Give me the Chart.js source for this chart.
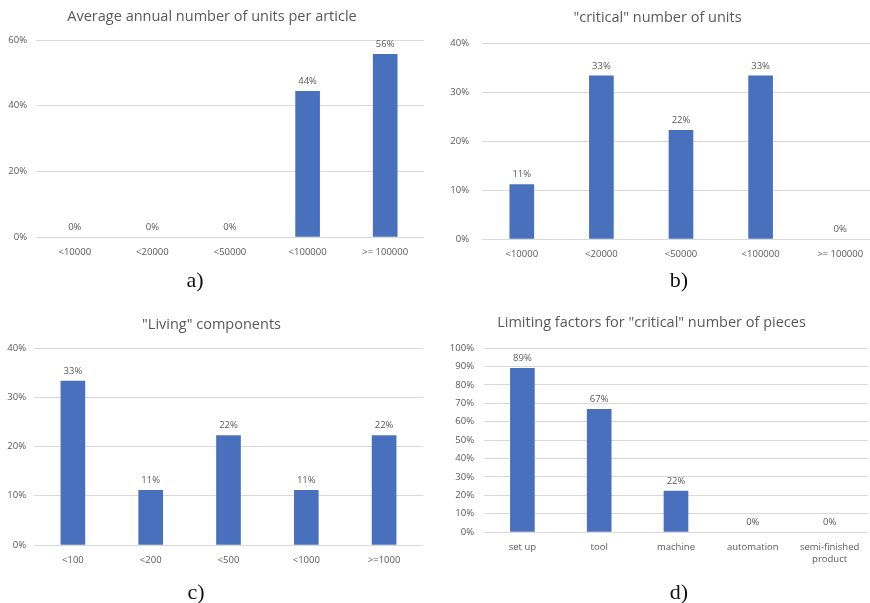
<!DOCTYPE html>
<html>
<head>
<meta charset="utf-8">
<script src="https://cdn.jsdelivr.net/npm/chart.js@4/dist/chart.umd.min.js"></script>
<style>
  html, body { margin: 0; padding: 0; background: #ffffff; width: 870px; height: 603px; overflow: hidden; position: relative; }
  canvas { position: absolute; }
  .tag { position: absolute; font-family: "Liberation Serif", "DejaVu Serif", serif; font-size: 22px; color: #111; transform: translate(-50%, -50%); line-height: 1; }
</style>
</head>
<body>
<canvas id="cA" width="435" height="300" style="left:0px;top:0px"></canvas>
<canvas id="cB" width="470" height="300" style="left:435px;top:0px"></canvas>
<canvas id="cC" width="435" height="303" style="left:0px;top:300px"></canvas>
<canvas id="cD" width="452" height="303" style="left:435px;top:300px"></canvas>
<div class="tag" style="left:195px;top:280px">a)</div>
<div class="tag" style="left:679px;top:280px">b)</div>
<div class="tag" style="left:196px;top:592px">c)</div>
<div class="tag" style="left:679px;top:592px">d)</div>
<script>
// ---- data ----
const titleA = 'Average annual number of units per article';
const catsA = ['<10000', '<20000', '<50000', '<100000', '>= 100000'];
const valsA = [0, 0, 0, 44.4, 55.6];

const titleB = '"critical" number of units';
const catsB = ['<10000', '<20000', '<50000', '<100000', '>= 100000'];
const valsB = [11.1, 33.3, 22.2, 33.3, 0];

const titleC = '"Living" components';
const catsC = ['<100', '<200', '<500', '<1000', '>=1000'];
const valsC = [33.3, 11.1, 22.2, 11.1, 22.2];

const titleD = 'Limiting factors for "critical" number of pieces';
const catsD = ['set up', 'tool', 'machine', 'automation', ['semi-finished', 'product']];
const valsD = [88.9, 66.7, 22.2, 0, 0];

const yMaxA = 60, yStepA = 20;
const yMaxB = 40, yStepB = 10;
const yMaxC = 40, yStepC = 10;
const yMaxD = 100, yStepD = 10;

// ---- styling ----
const FONT = '"Open Sans", "Liberation Sans", sans-serif';
const TEXT = '#595959';
const GRID = '#d9d9d9';
const BAR = '#4870bd';

const valueLabels = {
  id: 'valueLabels',
  afterDatasetsDraw(chart) {
    const ctx = chart.ctx;
    ctx.save();
    ctx.font = '9.5px ' + FONT;
    ctx.fillStyle = TEXT;
    ctx.textAlign = 'center';
    ctx.textBaseline = 'middle';
    chart.data.datasets.forEach((ds, i) => {
      chart.getDatasetMeta(i).data.forEach((el, j) => {
        ctx.fillText(Math.round(ds.data[j]) + '%', el.x, el.y - 10);
      });
    });
    ctx.restore();
  }
};

function makeChart(id, title, cats, vals, yMax, yStep, area, titleY, yPad) {
  const canvas = document.getElementById(id);
  const W = canvas.width, H = canvas.height;
  const lh = 17;
  const xh = 34;
  new Chart(canvas, {
    type: 'bar',
    data: {
      labels: cats,
      datasets: [{ data: vals, backgroundColor: c => (c.raw === 0 ? 'rgba(0,0,0,0)' : BAR), barThickness: 24 }]
    },
    options: {
      responsive: false,
      animation: false,
      devicePixelRatio: 1,
      layout: { padding: { left: 0, top: 0, right: W - area.r, bottom: H - area.b - xh } },
      plugins: {
        legend: { display: false },
        tooltip: { enabled: false },
        title: {
          display: true,
          text: title,
          color: TEXT,
          font: { family: FONT, size: 14.5, weight: 'normal', lineHeight: lh / 14.5 },
          padding: { top: titleY - lh / 2, bottom: area.t - titleY - lh / 2 }
        }
      },
      scales: {
        x: {
          grid: { display: false, drawTicks: false },
          border: { display: false },
          ticks: { color: TEXT, font: { family: FONT, size: 9.5, lineHeight: 1.25 }, padding: 9, maxRotation: 0, autoSkip: false },
          afterFit(s) { s.height = xh; }
        },
        y: {
          min: 0, max: yMax,
          grid: { color: GRID, drawTicks: false },
          border: { display: false },
          ticks: { stepSize: yStep, color: TEXT, font: { family: FONT, size: 9.5 }, padding: yPad, callback: v => v + '%' },
          afterFit(s) { s.width = area.l; }
        }
      }
    },
    plugins: [valueLabels]
  });
}

makeChart('cA', titleA, catsA, valsA, yMaxA, yStepA, { l: 36, t: 40, r: 424, b: 237 }, 17, 9);
makeChart('cB', titleB, catsB, valsB, yMaxB, yStepB, { l: 47, t: 43, r: 445, b: 239 }, 18, 13);
makeChart('cC', titleC, catsC, valsC, yMaxC, yStepC, { l: 34, t: 48, r: 423, b: 245 }, 25, 8);
makeChart('cD', titleD, catsD, valsD, yMaxD, yStepD, { l: 49, t: 48, r: 433, b: 232 }, 23, 10);
</script>
</body>
</html>
